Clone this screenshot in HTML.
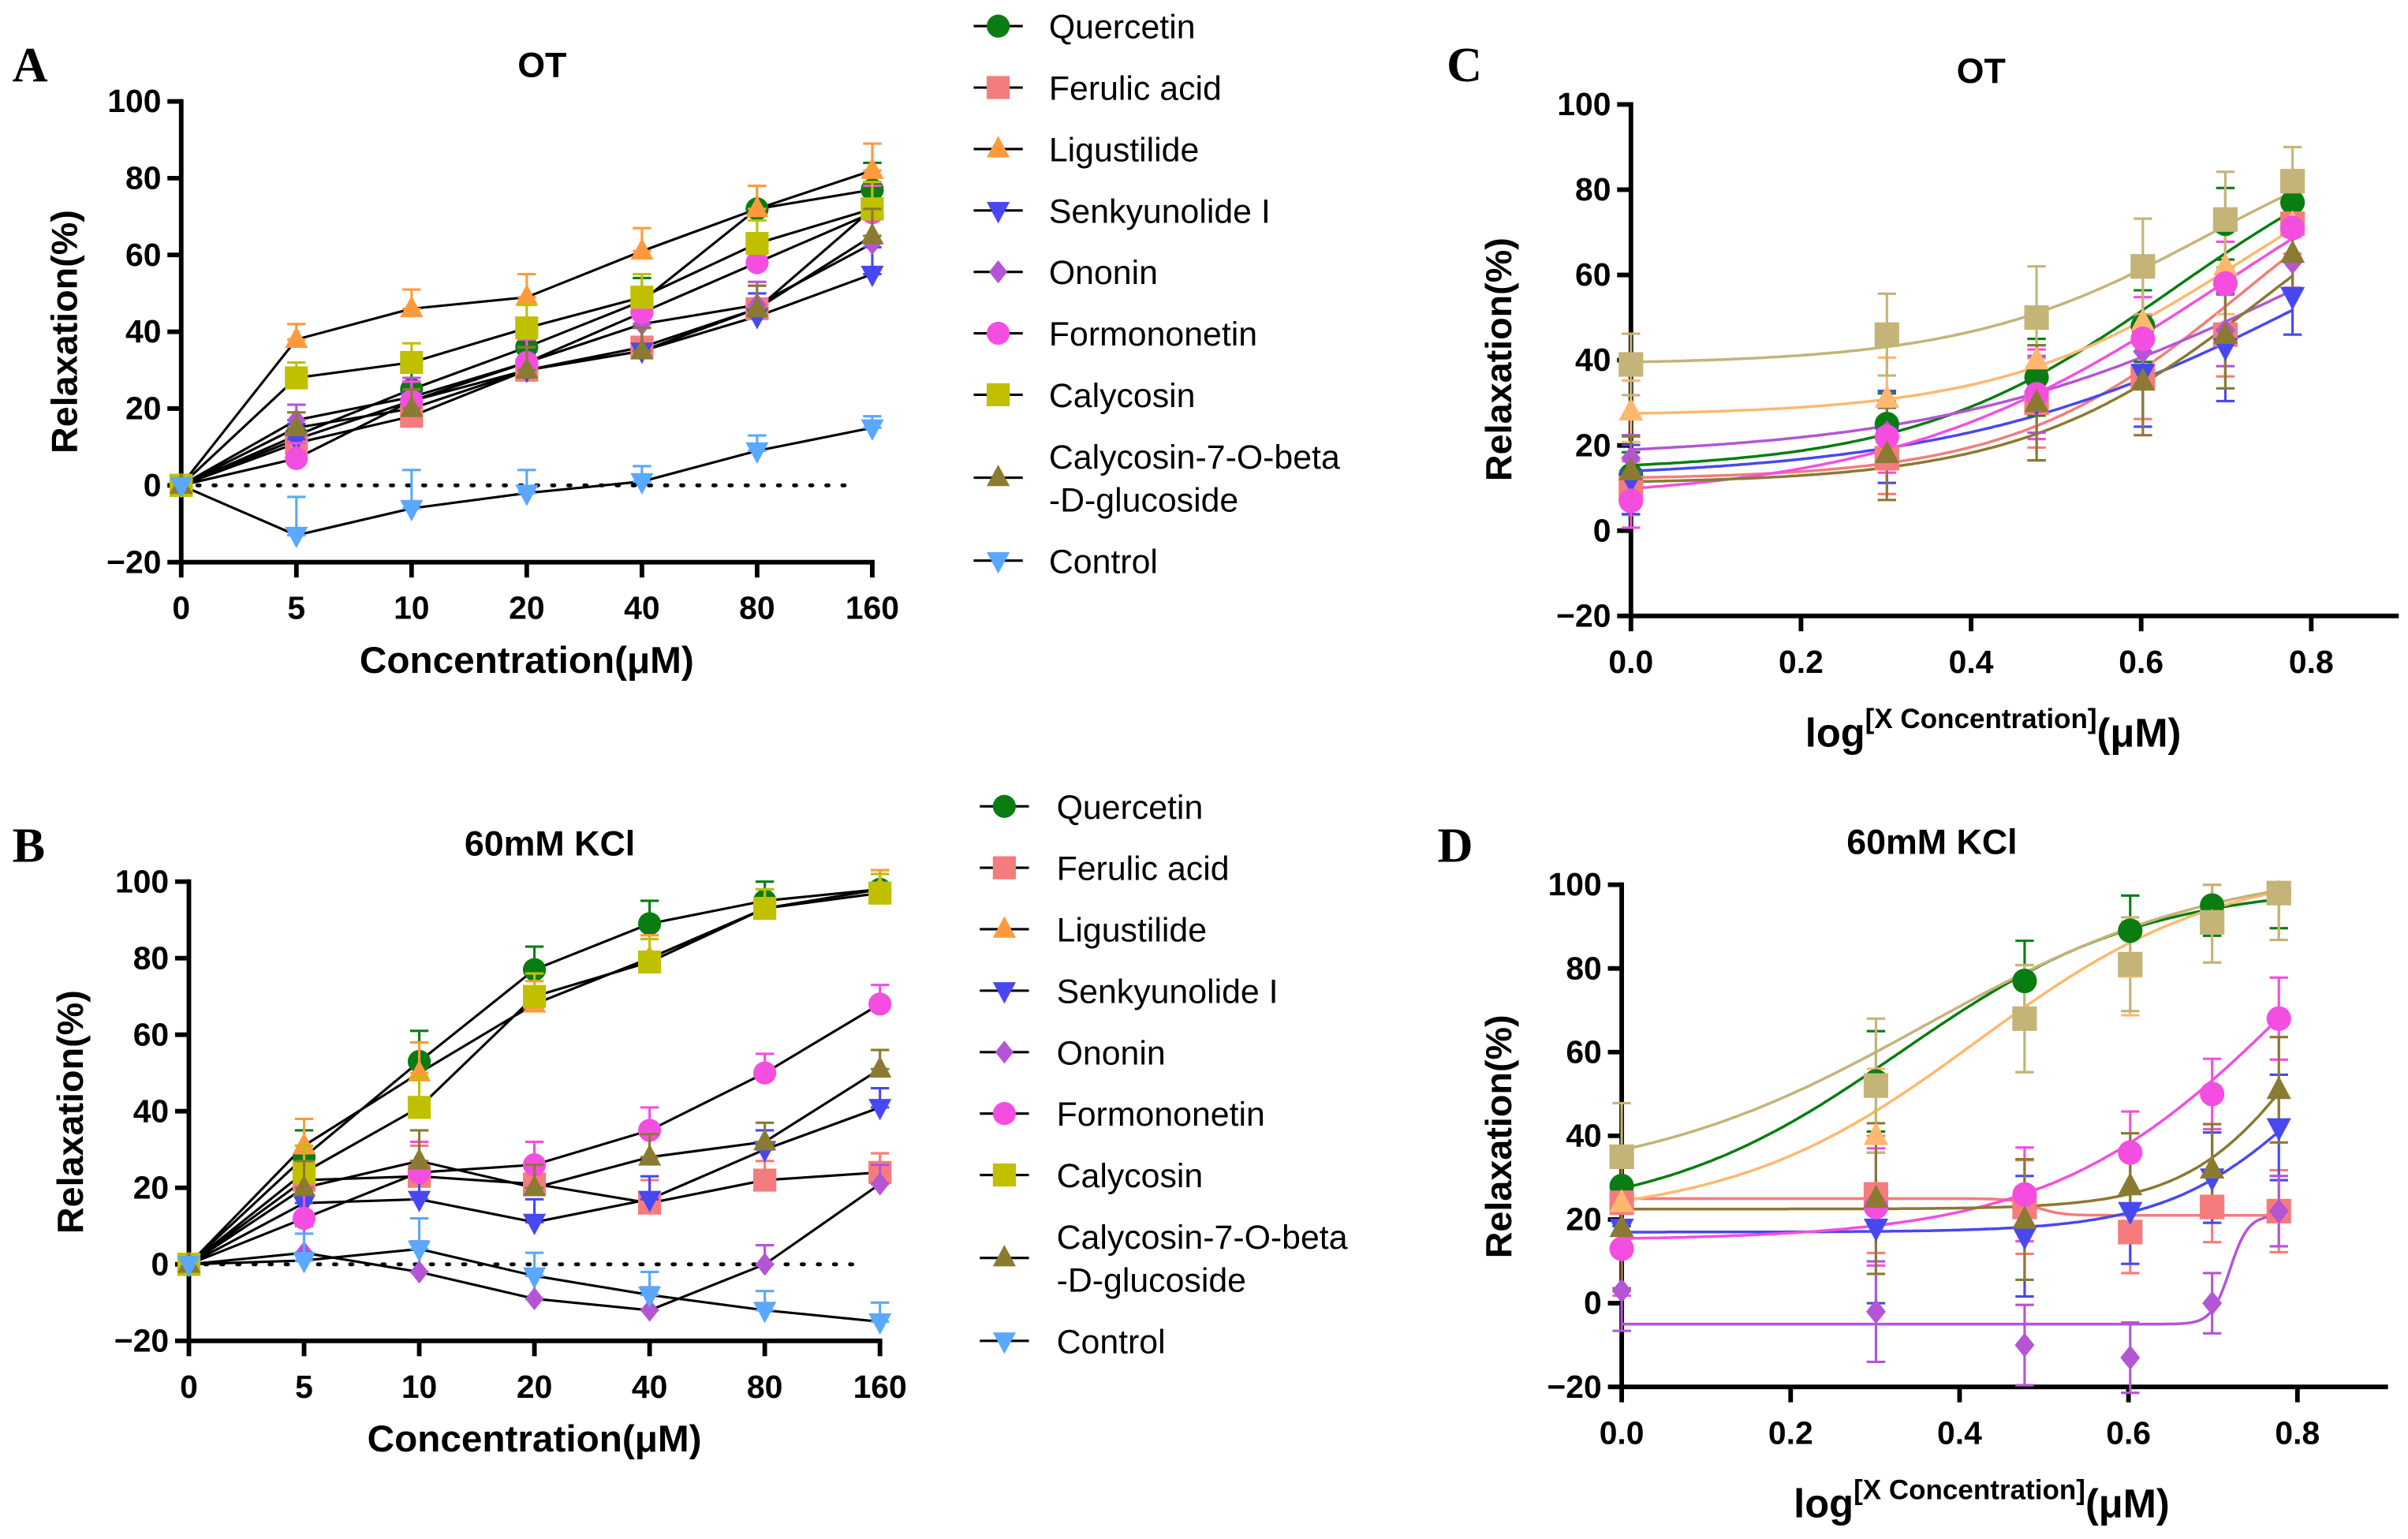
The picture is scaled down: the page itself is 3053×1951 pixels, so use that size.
<!DOCTYPE html>
<html><head><meta charset="utf-8"><style>
html,body{margin:0;padding:0;background:#fff}
svg{display:block}
text{font-family:"Liberation Sans",Arial,sans-serif}
</style></head><body>
<svg id="fig" xmlns="http://www.w3.org/2000/svg" width="3053" height="1951" viewBox="0 0 1568 1002">
<rect width="1568" height="1002" fill="#fff"/>
</svg>
<script>
// ---- shared ----
const seriesNames = ["Quercetin","Ferulic acid","Ligustilide","Senkyunolide I","Ononin","Formononetin","Calycosin","Calycosin-7-O-beta-D-glucoside","Control"];
const catLabels = ["0","5","10","20","40","80","160"];
const yTicks = [-20,0,20,40,60,80,100];
const logX = [0,0.301,0.477,0.602,0.699,0.778];
const logTicks = [0,0.2,0.4,0.6,0.8];
// ---- panel A (OT) values ----
const aQuercetin=[0,13,25,36,48,72,77];
const aFerulic=[0,11,18,30,36,46,72];
const aLigustilide=[0,38,46,49,61,72,82];
const aSenkyunolide=[0,12,22,30,35,44,55];
const aOnonin=[0,17,23,32,42,47,63];
const aFormononetin=[0,7,22,32,45,58,71];
const aCalycosin=[0,28,32,41,49,63,72];
const aC7G=[0,15,20,30,35,46,65];
const aControl=[0,-13,-6,-2,1,9,15];
const aErr=[0,4,5,6,6,6,7];
const aErrControl=[0,10,10,6,4,4,3];
// ---- panel B (KCl) values ----
const bQuercetin=[0,28,53,77,89,95,98];
const bFerulic=[0,22,23,21,16,22,24];
const bLigustilide=[0,31,50,68,80,93,98];
const bSenkyunolide=[0,16,17,11,17,30,41];
const bOnonin=[0,3,-2,-9,-12,0,21];
const bFormononetin=[0,12,24,26,35,50,68];
const bCalycosin=[0,24,41,70,79,93,97];
const bC7G=[0,20,27,20,28,32,51];
const bControl=[0,1,4,-3,-8,-12,-15];
const bErr=[0,7,8,6,6,5,5];
// ---- panel C (OT, log) points ----
const cQuercetin=[13,25,36,48,72,77];
const cFerulic=[10,17,30,36,46,72];
const cLigustilide=[28,31,40,49,62,72];
const cSenkyunolide=[12,22,30,37,43,55];
const cOnonin=[17,23,32,42,47,63];
const cFormononetin=[7,22,32,45,58,71];
const cCalycosin=[39,46,50,62,73,82];
const cC7G=[14,18,30,35,46,65];
const cErr=[9,12,15,14,14,10];
// C fit params [bottom, top, logEC50, hill]
const cFitQuercetin=[14,100,0.64,2.8];
const cFitFerulic=[12,100,0.72,3.2];
const cFitLigustilide=[27,100,0.72,3];
const cFitSenkyunolide=[12,100,0.82,2];
const cFitOnonin=[17,100,0.8,2];
const cFitFormononetin=[7,110,0.7,2.2];
const cFitCalycosin=[39,100,0.68,3];
const cFitC7G=[11,100,0.75,3];
// ---- panel D (KCl, log) points ----
const dQuercetin=[28,53,77,89,95,98];
const dFerulic=[24,26,23,17,23,22];
const dLigustilide=[24,40,68,80,91,98];
const dSenkyunolide=[18,18,16,22,30,42];
const dOnonin=[3,-2,-10,-13,0,22];
const dFormononetin=[13,23,26,36,50,68];
const dCalycosin=[35,52,68,81,91,98];
const dC7G=[18,25,20,28,32,51];
const dErr=[16,20,16,14,12,14];
// D fit params
const dFitQuercetin=[20,100,0.33,3];
const dFitFerulic=[21,25,0.49,-30];
const dFitLigustilide=[20,105,0.42,3];
const dFitSenkyunolide=[17,80,0.82,5];
const dFitOnonin=[-5,21,0.72,40];
const dFitFormononetin=[15,130,0.8,3];
const dFitCalycosin=[28,105,0.36,2.5];
const dFitC7G=[22.5,100,0.82,6];

const styleA=[
 {c:"#0a7d12",m:"circle"},{c:"#f57c7c",m:"square"},{c:"#ff9a3c",m:"up"},{c:"#4848f0",m:"down"},
 {c:"#b455d6",m:"diamond"},{c:"#f44ee0",m:"circle"},{c:"#c0c000",m:"square"},{c:"#8a7a32",m:"up"},{c:"#5aa8ff",m:"down"}];
const styleLog=[
 {c:"#0a7d12",m:"circle"},{c:"#f57c7c",m:"square"},{c:"#ffb870",m:"up"},{c:"#4848f0",m:"down"},
 {c:"#b455d6",m:"diamond"},{c:"#f44ee0",m:"circle"},{c:"#c4b478",m:"square"},{c:"#8a7a32",m:"up"}];

const svg=document.getElementById('fig');
const NS="http://www.w3.org/2000/svg";
function el(tag,attrs,parent){const e=document.createElementNS(NS,tag);for(const k in attrs)e.setAttribute(k,attrs[k]);(parent||svg).appendChild(e);return e;}
function txt(s,attrs,parent){const t=el('text',attrs,parent);t.textContent=s;return t;}
function marker(g,m,x,y,c,r){
  r=r||7.5;let e;
  if(m==="circle")e=el('circle',{cx:x,cy:y,r:r,fill:c},g);
  else if(m==="square")e=el('rect',{x:x-r,y:y-r,width:2*r,height:2*r,fill:c},g);
  else if(m==="up")e=el('polygon',{points:`${x},${y-r-1} ${x-r},${y+r-2} ${x+r},${y+r-2}`,fill:c},g);
  else if(m==="down")e=el('polygon',{points:`${x},${y+r+1} ${x-r},${y-r+2} ${x+r},${y-r+2}`,fill:c},g);
  else e=el('polygon',{points:`${x},${y-r} ${x+r*0.8},${y} ${x},${y+r} ${x-r*0.8},${y}`,fill:c},g);
  return e;
}
function errbar(g,x,y1,y2,c){
  el('line',{x1:x,y1:y1,x2:x,y2:y2,stroke:c,'stroke-width':1.6},g);
  el('line',{x1:x-6,y1:y1,x2:x+6,y2:y1,stroke:c,'stroke-width':1.6},g);
  el('line',{x1:x-6,y1:y2,x2:x+6,y2:y2,stroke:c,'stroke-width':1.6},g);
}
function yAxis(g,x,yScale,bot){
  el('line',{x1:x,y1:yScale(100)-1.5,x2:x,y2:bot+1.5,stroke:'#000','stroke-width':3},g);
  yTicks.forEach(v=>{const y=yScale(v);
    el('line',{x1:x-9,y1:y,x2:x,y2:y,stroke:'#000','stroke-width':3},g);
    const t=txt(v<0?"\u2212"+(-v):String(v),{x:x-13,y:y+7,'font-size':21,'font-weight':'bold','text-anchor':'end'},g);
    
    
  });
}
function title(s,x,y,name){const t=txt(s,{x:x,y:y,'font-size':23,'font-weight':'bold','text-anchor':'middle'});}
function letter(s,x,y){const t=txt(s,{x:x,y:y,'font-size':32,'font-weight':'bold',style:'font-family:"Liberation Serif",serif'});}
function yTitle(x,y){const t=txt("Relaxation(%)",{x:0,y:0,'font-size':24,'font-weight':'bold','text-anchor':'middle',transform:`translate(${x},${y}) rotate(-90)`});}

// ---- category panels ----
function catPanel(id,x0,step,yTop,yBot,data,errs,titleStr,titleX,titleY){
  const g=el('g',{});
  
  
  const yS=v=>yBot-(v+20)*(yBot-yTop)/120;
  const xS=i=>x0+i*step;
  yAxis(g,x0,yS,yBot);
  el('line',{x1:x0,y1:yBot,x2:xS(6)+1.5,y2:yBot,stroke:'#000','stroke-width':3},g);
  catLabels.forEach((l,i)=>{el('line',{x1:xS(i),y1:yBot,x2:xS(i),y2:yBot+10,stroke:'#000','stroke-width':3},g);
    const t=txt(l,{x:xS(i),y:yBot+37,'font-size':21,'font-weight':'bold','text-anchor':'middle'},g);
    
    });
  el('line',{x1:x0,y1:yS(0),x2:xS(6)-10,y2:yS(0),stroke:'#000','stroke-width':2.5,'stroke-dasharray':'1.5 9','stroke-linecap':'round'},g);
  data.forEach((arr,si)=>{
    const p=el('polyline',{points:arr.map((v,i)=>xS(i)+','+yS(v)).join(' '),fill:'none',stroke:'#000','stroke-width':1.6},g);
    
    
  });
  data.forEach((arr,si)=>{const st=styleA[si];const e=errs[si];
    arr.forEach((v,i)=>{ if(i>0){ const d=e[i]; errbar(g,xS(i),yS(v+d),yS(v),st.c);} 
      const mk=marker(g,st.m,xS(i),yS(v),st.c);
      
      });
  });
  title(titleStr,titleX,titleY,'title-'+id);
  const xt=txt("Concentration(\u03bcM)",{x:xS(3),y:yBot+72,'font-size':24.5,'font-weight':'bold','text-anchor':'middle'});
  
  
}
function legend(id,mx,tx,ys,items){
  const g=el('g',{});
  
  
  items.forEach((it,i)=>{
    const ge=el('g',{},g);
    
    
    const st=styleA[i];const y=ys[i];
    el('line',{x1:mx-16,y1:y,x2:mx+16,y2:y,stroke:'#000','stroke-width':1.6},ge);
    marker(ge,st.m,mx,y,st.c);
    if(i===7){txt("Calycosin-7-O-beta",{x:tx,y:y-6,'font-size':22},ge);txt("-D-glucoside",{x:tx,y:y+22,'font-size':22},ge);}
    else txt(it,{x:tx,y:y+8,'font-size':22},ge);
  });
}
catPanel('a',118,75,66,366,[aQuercetin,aFerulic,aLigustilide,aSenkyunolide,aOnonin,aFormononetin,aCalycosin,aC7G,aControl],
  [aErr,aErr,aErr,aErr,aErr,aErr,aErr,aErr,aErrControl],"OT",353,50);
catPanel('b',123,75,574,873,[bQuercetin,bFerulic,bLigustilide,bSenkyunolide,bOnonin,bFormononetin,bCalycosin,bC7G,bControl],
  [bErr,bErr,bErr,bErr,bErr,bErr,bErr,bErr,bErr],"60mM KCl",358,557);
legend('a',650,683,[17,57,97,137,177,217,257,311,365],seriesNames);
legend('b',654,688,[525,565,605,645,685,725,765,819,873],seriesNames);
letter("A",8,53);letter("B",8,561);
yTitle(50,216);yTitle(54,724);

// ---- log panels ----
function fourPL(p,x){return p[0]+(p[1]-p[0])/(1+Math.pow(10,(p[2]-x)*p[3]));}
function logPanel(id,xl,xr,xEnd,yTop,yBot,pts,fits,errSign,titleStr,titleX,titleY){
  const g=el('g',{});
  
  
  const yS=v=>yBot-(v+20)*(yBot-yTop)/120;
  const xS=v=>xl+v*(xr-xl)/0.8;
  yAxis(g,xl,yS,yBot);
  el('line',{x1:xl,y1:yBot,x2:xEnd,y2:yBot,stroke:'#000','stroke-width':3},g);
  logTicks.forEach(v=>{el('line',{x1:xS(v),y1:yBot,x2:xS(v),y2:yBot+10,stroke:'#000','stroke-width':3},g);
    const t=txt(v.toFixed(1),{x:xS(v),y:yBot+37,'font-size':21,'font-weight':'bold','text-anchor':'middle'},g);
    
    });
  fits.forEach((p,si)=>{const pts2=[];for(let k=0;k<=200;k++){const x=k/200*logX[5];let v=fourPL(p,x);v=Math.max(-20,Math.min(101,v));pts2.push(xS(x).toFixed(1)+','+yS(v).toFixed(1));}
    const c=el('polyline',{points:pts2.join(' '),fill:'none',stroke:styleLog[si].c,'stroke-width':1.8},g);
    
    });
  pts.forEach((arr,si)=>{const st=styleLog[si];
    arr.forEach((v,i)=>{const d=errSign[i]*(0.6+0.1*(si%4));
      errbar(g,xS(logX[i]),yS(Math.min(100,v+d)),yS(v-d),st.c);});});
  pts.forEach((arr,si)=>{const st=styleLog[si];
    arr.forEach((v,i)=>{const mk=marker(g,st.m,xS(logX[i]),yS(v),st.c,8);
      
      });});
  title(titleStr,titleX,titleY,'title-'+id);
  const t=el('text',{x:xS(0.4)-108,y:yBot+85,'font-size':26,'font-weight':'bold'});
  
  
  const s1=el('tspan',{},t);s1.textContent="log";
  const s2=el('tspan',{dy:-12,'font-size':18},t);s2.textContent="[X Concentration]";
  const s3=el('tspan',{dy:12},t);s3.textContent="(\u03bcM)";
}
logPanel('c',1062,1505,1562,68,401,[cQuercetin,cFerulic,cLigustilide,cSenkyunolide,cOnonin,cFormononetin,cCalycosin,cC7G],
  [cFitQuercetin,cFitFerulic,cFitLigustilide,cFitSenkyunolide,cFitOnonin,cFitFormononetin,cFitCalycosin,cFitC7G],cErr,"OT",1290,54);
logPanel('d',1056,1496,1555,576,903,[dQuercetin,dFerulic,dLigustilide,dSenkyunolide,dOnonin,dFormononetin,dCalycosin,dC7G],
  [dFitQuercetin,dFitFerulic,dFitLigustilide,dFitSenkyunolide,dFitOnonin,dFitFormononetin,dFitCalycosin,dFitC7G],dErr,"60mM KCl",1258,556);
letter("C",942,53);letter("D",936,561);
yTitle(984,234);yTitle(984,740);
</script>
</body></html>
